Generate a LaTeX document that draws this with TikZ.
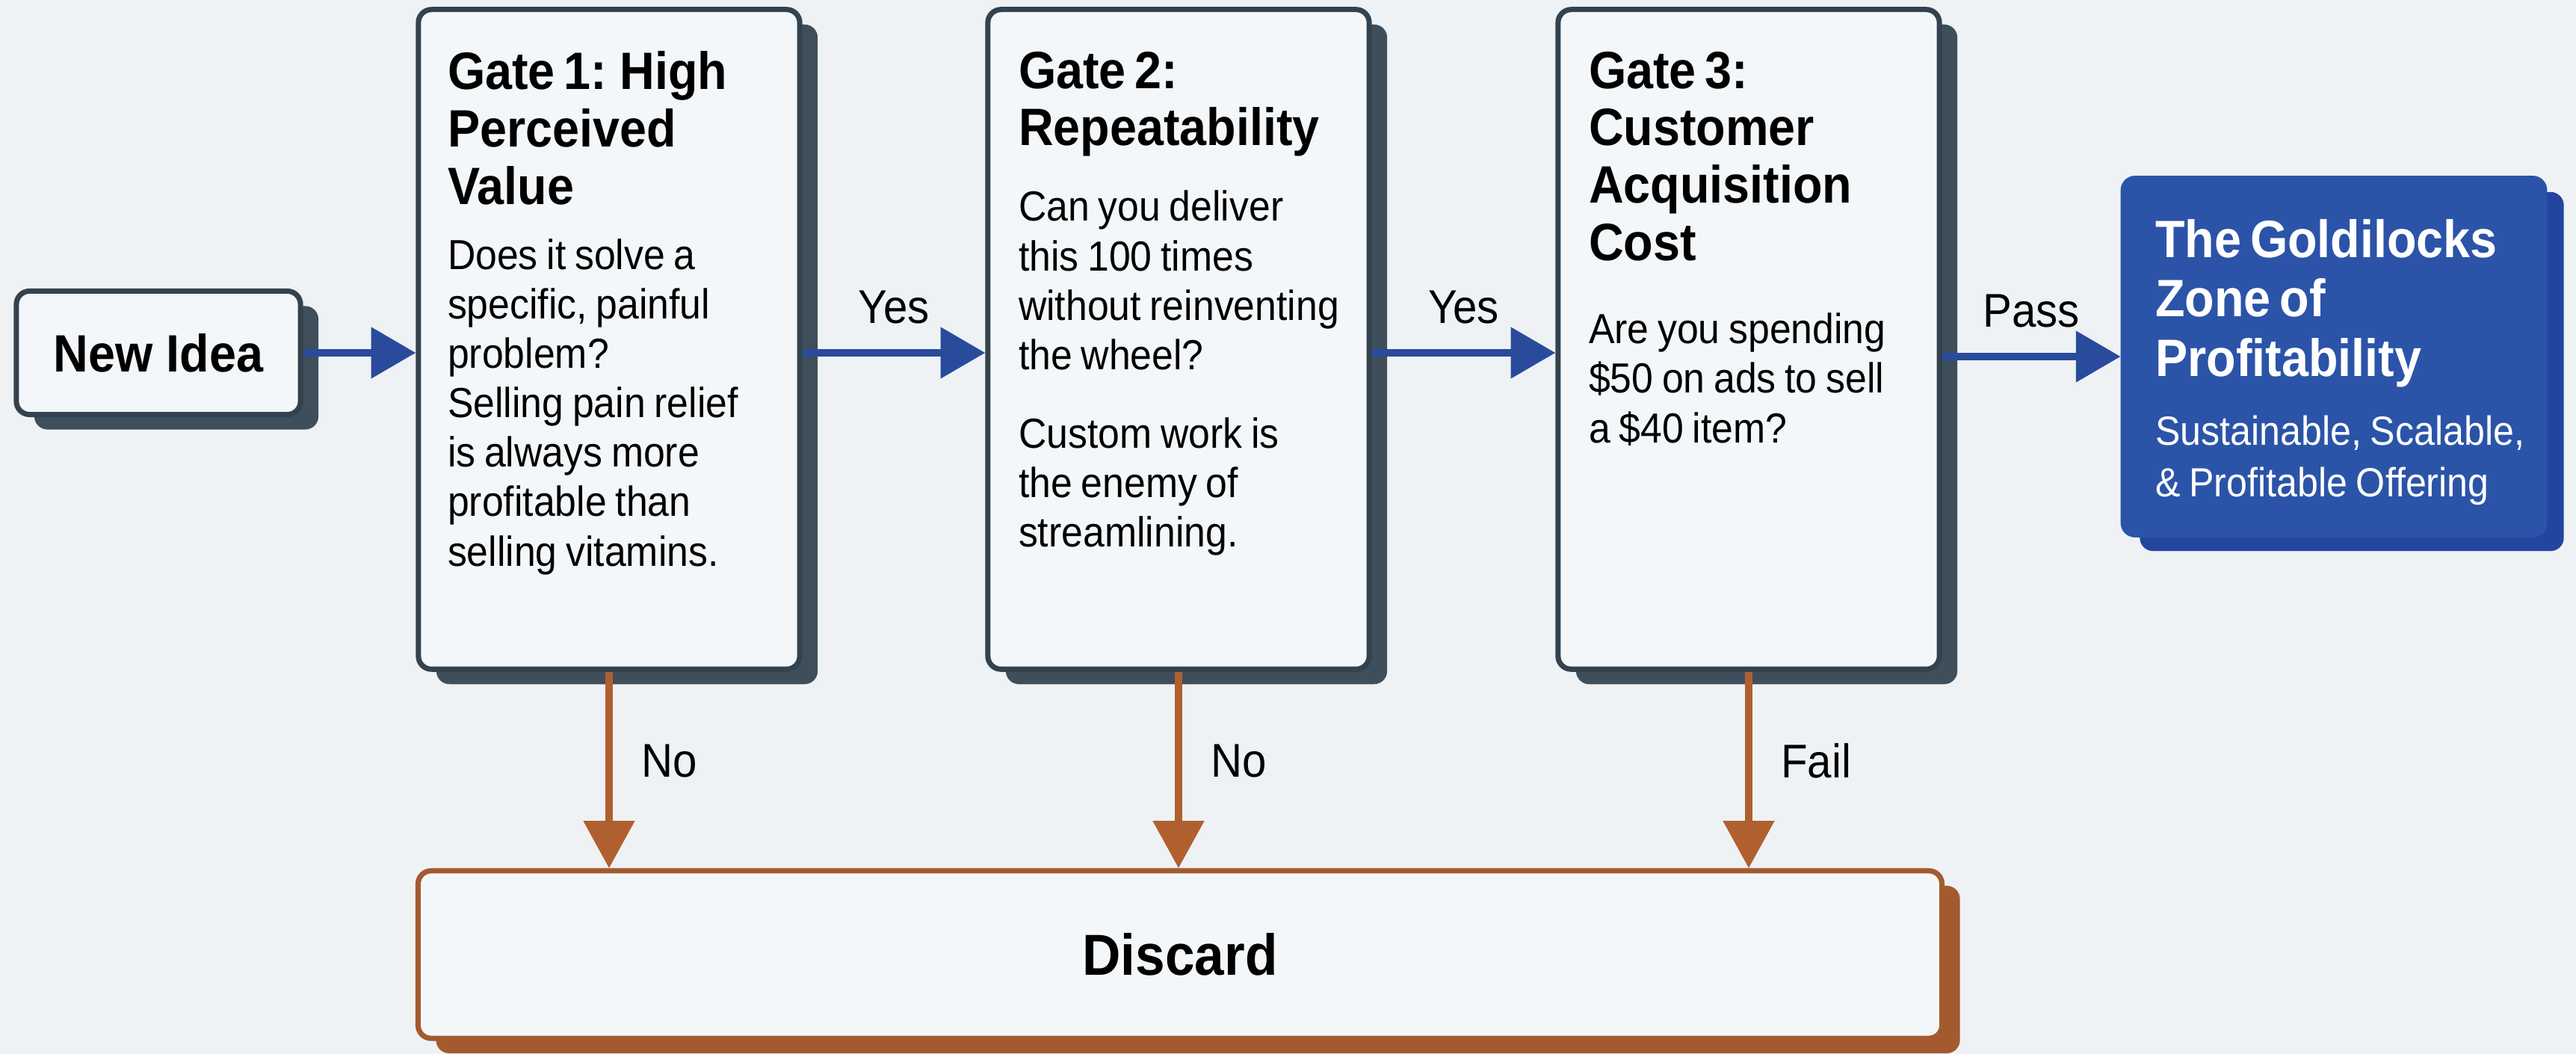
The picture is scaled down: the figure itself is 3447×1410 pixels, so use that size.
\documentclass[tikz,border=0pt]{standalone}
\usepackage{fontspec}
\setmainfont{Liberation Sans}[FakeStretch=0.92]
\usetikzlibrary{positioning,shadows,arrows.meta}

\definecolor{pagebg}{HTML}{EEF2F5}
\definecolor{boxfill}{HTML}{F4F7F9}
\definecolor{slate}{HTML}{33424E}
\definecolor{slateshadow}{HTML}{3E4E5B}
\definecolor{flowblue}{HTML}{2A4B9B}
\definecolor{goldblue}{HTML}{2B54A8}
\definecolor{goldshadow}{HTML}{2245A0}
\definecolor{rust}{HTML}{A35A2F}
\definecolor{rustarrow}{HTML}{B0602F}

% Title and body text of one gate card; optional gap between them.
\newcommand{\gatecard}[3][9pt]{%
  {\bfseries\fontsize{20}{21.8}\selectfont #2\par}\vspace{#1}%
  {\fontsize{16}{18.8}\selectfont #3\par}}

\begin{document}
\begin{tikzpicture}[
  x={(0.01cm,0cm)},
  y={(0cm,-0.01cm)},
  line join=round,
  card/.style={draw=slate,line width=2pt,fill=boxfill,rounded corners=5pt,inner sep=0pt,
    drop shadow={shadow xshift=0.24cm,shadow yshift=-0.2cm,opacity=1,fill=slateshadow}},
  gatebox/.style={card,minimum width=5.1cm,minimum height=8.82cm},
  gatetext/.style={anchor=north west,inner sep=0pt,text width=4.5cm,align=left},
  goalbox/.style={draw=goldblue,line width=1pt,fill=goldblue,rounded corners=5pt,inner sep=0pt,
    minimum width=5.67cm,minimum height=4.8cm,
    drop shadow={shadow xshift=0.24cm,shadow yshift=-0.2cm,opacity=1,fill=goldshadow}},
  dropbox/.style={draw=rust,line width=2pt,fill=boxfill,rounded corners=5pt,inner sep=0pt,
    minimum width=20.38cm,minimum height=2.24cm,
    drop shadow={shadow xshift=0.24cm,shadow yshift=-0.2cm,opacity=1,fill=rust}},
  pass/.style={draw=flowblue,line width=2.6pt,-{Triangle[width=19pt,length=17pt]}},
  reject/.style={draw=rustarrow,line width=2.6pt,-{Triangle[width=19pt,length=18pt]}},
  flowlabel/.style={inner sep=0pt,text depth=4pt,font=\fontsize{18}{20}\selectfont}
]
  % Page background fixes the bounding box.
  \fill[pagebg] (0,0) rectangle (3447,1410);
  \useasboundingbox (0,0) rectangle (3447,1410);

  % Start card.
  \node[card,minimum width=3.8cm,minimum height=1.65cm,font=\bfseries\fontsize{20}{22}\selectfont]
    (idea) at (212,472) {New Idea};

  % Gate cards.
  \node[gatebox] (g1) at (815,454) {};
  \node[gatebox] (g2) at (1577,454) {};
  \node[gatebox] (g3) at (2340,454) {};

  \node[gatetext] (t1) at ([shift={(42,59)}]g1.north west)
    {\gatecard[6pt]{Gate 1: High\\Perceived\\Value}
      {Does it solve a\\specific, painful\\problem?\\Selling pain relief\\is always more\\profitable than\\selling vitamins.}};
  \node[gatetext] (t2) at ([shift={(44,59)}]g2.north west)
    {\gatecard[10pt]{Gate 2:\\Repeatability}
      {Can you deliver\\this 100 times\\without reinventing\\the wheel?\\[11pt]Custom work is\\the enemy of\\streamlining.}};
  \node[gatetext] (t3) at ([shift={(44,59)}]g3.north west)
    {\gatecard[13pt]{Gate 3:\\Customer\\Acquisition\\Cost}
      {Are you spending\\\$50 on ads to sell\\a \$40 item?}};

  % Goal and discard cards.
  \node[goalbox] (goal) at (3123,477) {};
  \node[anchor=north west,inner sep=0pt,text width=5cm,align=left,text=white] (goaltxt)
    at ([shift={(46,58)}]goal.north west)
    {{\bfseries\fontsize{20}{22.5}\selectfont The Goldilocks\\Zone of\\Profitability\par}\vspace{7pt}%
     {\fontsize{15.5}{19.4}\selectfont Sustainable, Scalable,\\\& Profitable Offering\par}};
  \node[dropbox,font=\bfseries\fontsize{22}{24}\selectfont] (discard) at (1579,1277) {Discard};

  % Forward path.
  \draw[pass] (idea.east) -- (idea.east -| g1.west);
  \draw[pass] (g1.east |- idea.east) -- node[flowlabel,above=6pt] (yes1) {Yes} (g2.west |- idea.east);
  \draw[pass] (g2.east |- idea.east) -- node[flowlabel,above=6pt] (yes2) {Yes} (g3.west |- idea.east);
  \draw[pass] (g3.east |- goal.west) -- node[flowlabel,above=6pt] (passlbl) {Pass} (goal.west);

  % Rejections into the discard card.
  \foreach \g/\lab in {g1/No,g2/No,g3/Fail} {
    \draw[reject] (\g.south) -- node[flowlabel,pos=0.48,right=11pt] {\lab} (\g.south |- discard.north);
  }
\end{tikzpicture}
\end{document}
